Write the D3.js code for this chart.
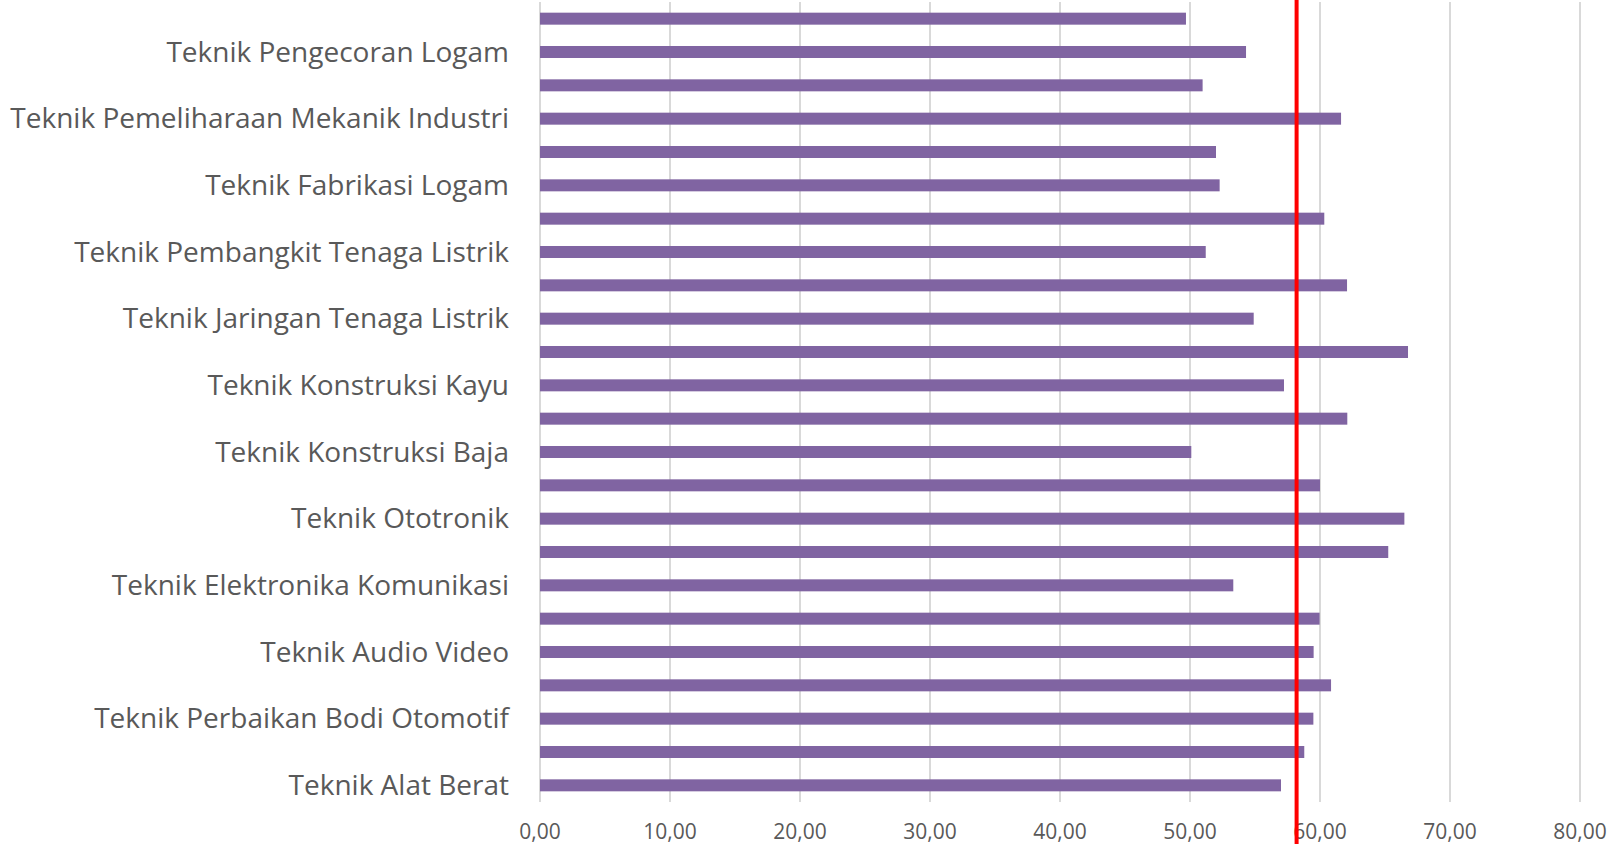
<!DOCTYPE html>
<html>
<head>
<meta charset="utf-8">
<script src="https://cdn.jsdelivr.net/npm/d3@7"></script>
<style>
  body { margin: 0; background: #fff; }
  svg { display: block; font-family: "Open Sans", "Noto Sans", sans-serif; }
</style>
</head>
<body>
<div id="chart"></div>
<script>
// categories from bottom to top (Excel order); unlabeled ones are skipped by the axis
const categories = [
  "Teknik Alat Berat", "", "Teknik Perbaikan Bodi Otomotif", "",
  "Teknik Audio Video", "", "Teknik Elektronika Komunikasi", "",
  "Teknik Ototronik", "", "Teknik Konstruksi Baja", "",
  "Teknik Konstruksi Kayu", "", "Teknik Jaringan Tenaga Listrik", "",
  "Teknik Pembangkit Tenaga Listrik", "", "Teknik Fabrikasi Logam", "",
  "Teknik Pemeliharaan Mekanik Industri", "", "Teknik Pengecoran Logam", ""
];
const values = [
  57.00, 58.79, 59.49, 60.85, 59.51, 59.97, 53.33, 65.25,
  66.49, 60.00, 50.10, 62.10, 57.23, 66.77, 54.90, 62.08,
  51.21, 60.33, 52.28, 52.00, 61.62, 50.97, 54.31, 49.69
];
const xTicks = [0, 10, 20, 30, 40, 50, 60, 70, 80];
const refValue = 58.2;

const W = 1623, H = 844;
const margin = { top: 2, right: 43, bottom: 42, left: 540 };
const width = W - margin.left - margin.right;
const height = H - margin.top - margin.bottom;

const svg = d3.select("#chart").append("svg")
    .attr("width", W)
    .attr("height", H);

const g = svg.append("g")
    .attr("transform", `translate(${margin.left},${margin.top})`);

const x = d3.scaleLinear().domain([0, 80]).range([0, width]);
// index 0 at the bottom
const y = d3.scaleBand()
    .domain(d3.range(categories.length))
    .range([height, 0])
    .paddingInner(0.64)
    .paddingOuter(0.32);

// gridlines
g.selectAll(".grid")
  .data(xTicks)
  .enter().append("line")
    .attr("class", "grid")
    .attr("x1", d => x(d))
    .attr("x2", d => x(d))
    .attr("y1", 0)
    .attr("y2", height)
    .style("stroke", "#d9d9d9")
    .style("stroke-width", 2);

// bars
g.selectAll(".bar")
  .data(values)
  .enter().append("rect")
    .attr("class", "bar")
    .attr("x", x(0))
    .attr("y", (d, i) => y(i))
    .attr("width", d => x(d) - x(0))
    .attr("height", y.bandwidth())
    .style("fill", "#8064a2");

// category labels
g.selectAll(".cat")
  .data(categories)
  .enter().append("text")
    .attr("class", "cat")
    .attr("x", -31)
    .attr("y", (d, i) => y(i) + y.bandwidth() / 2)
    .attr("dy", ".35em")
    .attr("text-anchor", "end")
    .style("font-size", "28px")
    .style("fill", "#595959")
    .text(d => d);

// x tick labels
g.selectAll(".tick-label")
  .data(xTicks)
  .enter().append("text")
    .attr("class", "tick-label")
    .attr("x", d => x(d))
    .attr("y", height + 37)
    .attr("text-anchor", "middle")
    .style("font-size", "21px")
    .style("fill", "#595959")
    .text(d => d3.format(".2f")(d).replace(".", ","));

// reference line
svg.append("line")
    .attr("x1", margin.left + x(refValue))
    .attr("x2", margin.left + x(refValue))
    .attr("y1", 0)
    .attr("y2", H)
    .style("stroke", "#ff0000")
    .style("stroke-width", 4);
</script>
</body>
</html>
